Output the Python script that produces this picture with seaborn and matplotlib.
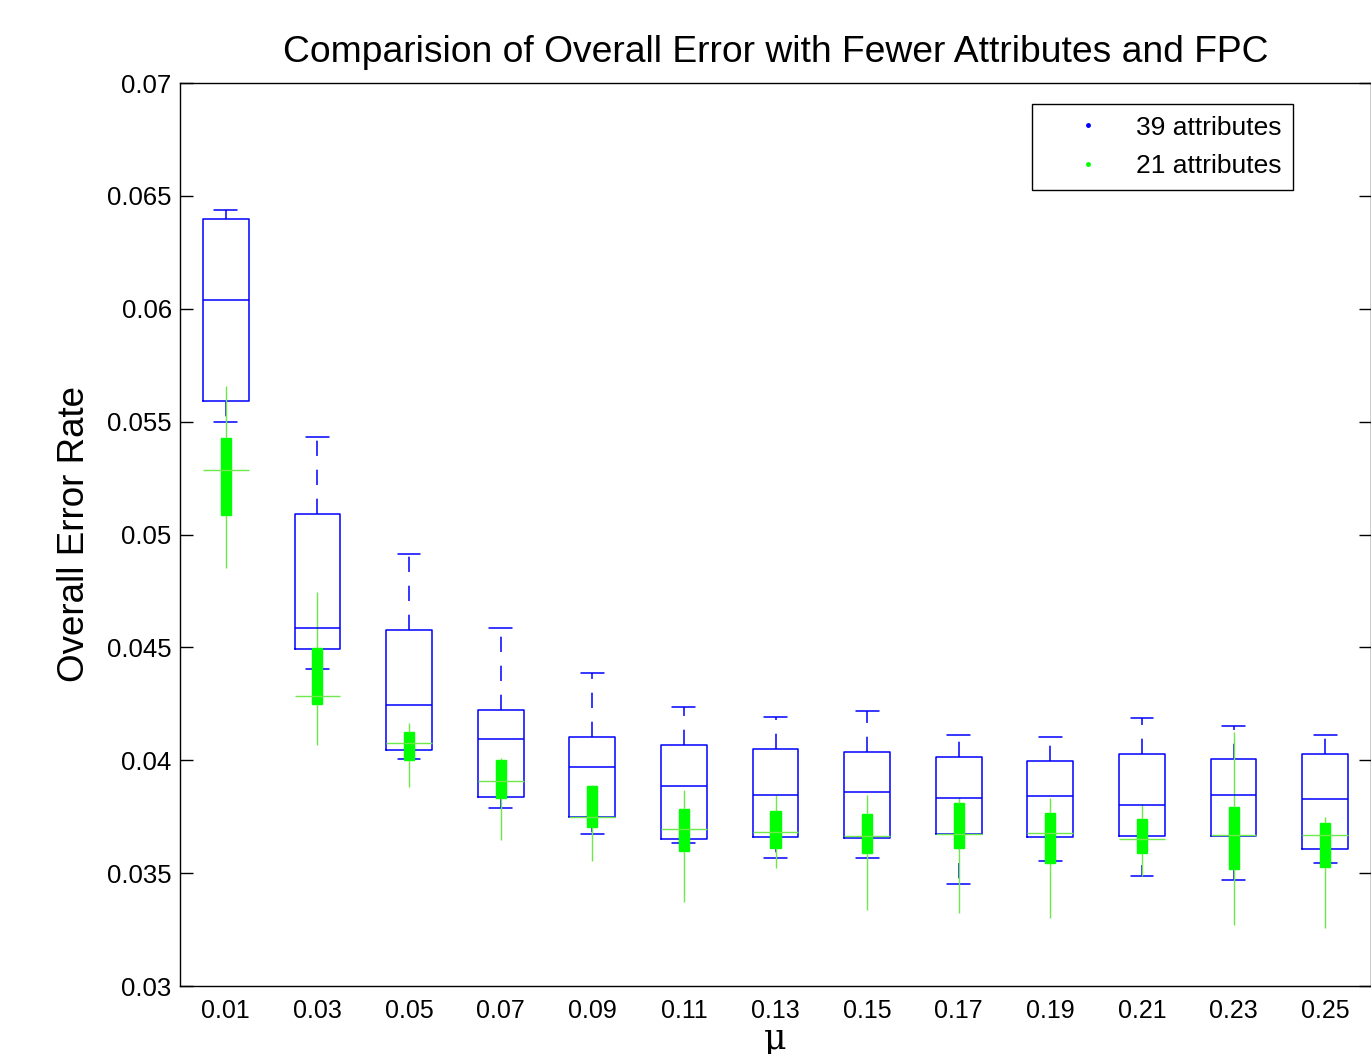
import numpy as np
import pandas as pd
import matplotlib
matplotlib.use("Agg")
import matplotlib.pyplot as plt
from matplotlib.lines import Line2D
import seaborn as sns

# ---- data ----
mu_labels = ['0.01', '0.03', '0.05', '0.07', '0.09', '0.11', '0.13',
             '0.15', '0.17', '0.19', '0.21', '0.23', '0.25']

# 39 attributes (blue): lower whisker, Q1, median, Q3, upper whisker
b_lo  = [0.05498, 0.04404, 0.04006, 0.03788, 0.03673, 0.03633, 0.03567,
         0.03567, 0.03452, 0.03554, 0.03487, 0.03470, 0.03545]
b_q1  = [0.05591, 0.04493, 0.04045, 0.03837, 0.03749, 0.03651, 0.03660,
         0.03656, 0.03673, 0.03660, 0.03664, 0.03664, 0.03607]
b_med = [0.06039, 0.04586, 0.04245, 0.04094, 0.03970, 0.03886, 0.03846,
         0.03859, 0.03833, 0.03842, 0.03802, 0.03846, 0.03828]
b_q3  = [0.06398, 0.05091, 0.04577, 0.04223, 0.04103, 0.04068, 0.04050,
         0.04037, 0.04014, 0.03997, 0.04028, 0.04006, 0.04028]
b_hi  = [0.06437, 0.05432, 0.04914, 0.04586, 0.04387, 0.04236, 0.04192,
         0.04218, 0.04112, 0.04103, 0.04187, 0.04152, 0.04112]

# 21 attributes (green)
g_lo  = [0.04852, 0.04068, 0.03881, 0.03647, 0.03554, 0.03372, 0.03523,
         0.03337, 0.03323, 0.03301, 0.03487, 0.03270, 0.03257]
g_q1  = [0.05086, 0.04249, 0.04001, 0.03833, 0.03704, 0.03598, 0.03611,
         0.03589, 0.03611, 0.03545, 0.03589, 0.03518, 0.03527]
g_med = [0.05286, 0.04285, 0.04076, 0.03908, 0.03749, 0.03695, 0.03682,
         0.03664, 0.03673, 0.03678, 0.03651, 0.03669, 0.03669]
g_q3  = [0.05427, 0.04497, 0.04125, 0.04001, 0.03886, 0.03784, 0.03775,
         0.03762, 0.03811, 0.03766, 0.03740, 0.03793, 0.03722]
g_hi  = [0.05658, 0.04745, 0.04165, 0.04010, 0.03890, 0.03868, 0.03846,
         0.03846, 0.03837, 0.03833, 0.03806, 0.04125, 0.03749]

y_ticks = [0.03, 0.035, 0.04, 0.045, 0.05, 0.055, 0.06, 0.065, 0.07]
y_tick_labels = ['0.03', '0.035', '0.04', '0.045', '0.05', '0.055',
                 '0.06', '0.065', '0.07']

title = 'Comparision of Overall Error with Fewer Attributes and FPC'
series_names = ['39 attributes', '21 attributes']

BLUE = '#0000ff'
GREEN = '#00ff00'
LIGHT_GREEN = '#6ee84a'


def long_frame(lo, q1, med, q3, hi):
    rows = []
    for i, lab in enumerate(mu_labels):
        for v in (lo[i], q1[i], med[i], q3[i], hi[i]):
            rows.append({'mu': lab, 'err': v})
    return pd.DataFrame(rows)


df_b = long_frame(b_lo, b_q1, b_med, b_q3, b_hi)
df_g = long_frame(g_lo, g_q1, g_med, g_q3, g_hi)

sns.set_style("white")
plt.rcParams['font.family'] = ['Liberation Sans', 'DejaVu Sans']
plt.rcParams['text.color'] = 'black'
plt.rcParams['axes.labelcolor'] = 'black'
plt.rcParams['xtick.color'] = 'black'
plt.rcParams['ytick.color'] = 'black'

fig = plt.figure(figsize=(13.71, 10.54), dpi=100)
ax = fig.add_axes([180 / 1371, 68 / 1054, 1191 / 1371, 903 / 1054])

# blue boxes (outline, dashed whiskers)
sns.boxplot(data=df_b, x='mu', y='err', order=mu_labels, ax=ax,
            whis=(0, 100), width=0.5, fill=False, color=BLUE,
            linecolor=BLUE, linewidth=1.1, saturation=1,
            whiskerprops=dict(linestyle=(0, (10, 9))))

# green compact boxes (thick filled box, thin whiskers, no caps)
sns.boxplot(data=df_g, x='mu', y='err', order=mu_labels, ax=ax,
            whis=(0, 100), width=0.11, fill=True, color=GREEN,
            linecolor=GREEN, linewidth=1.0, saturation=1,
            showcaps=False, medianprops=dict(alpha=0),
            whiskerprops=dict(color=LIGHT_GREEN))

# green medians as wide horizontal lines
sns.boxplot(data=df_g, x='mu', y='err', order=mu_labels, ax=ax,
            whis=(0, 100), width=0.5, fill=False, color=GREEN,
            linecolor=GREEN, linewidth=1.0, saturation=1,
            showcaps=False, boxprops=dict(alpha=0),
            whiskerprops=dict(alpha=0),
            medianprops=dict(color=LIGHT_GREEN, alpha=1))

ax.set_xlim(-0.5, len(mu_labels) - 0.5)
ax.set_ylim(0.03, 0.07)
ax.set_yticks(y_ticks)
ax.set_yticklabels(y_tick_labels)
ax.set_xticks(range(len(mu_labels)))
ax.set_xticklabels(mu_labels)

for s in ax.spines.values():
    s.set_visible(True)
    s.set_color('black')
    s.set_linewidth(1.0)

ax.tick_params(axis='y', direction='in', length=9, width=1, left=True,
               right=True, labelsize=18.5, pad=6, colors='black')
ax.tick_params(axis='x', length=0, labelsize=18, pad=9, colors='black')

ax.set_title(title, fontsize=26.8, pad=15, color='black')
ax.set_ylabel('Overall Error Rate', fontsize=26.5, color='black')
ax.yaxis.set_label_coords(-0.0735, 0.5)
ax.set_xlabel('μ', fontsize=25, family=['DejaVu Serif'], labelpad=0,
              color='black')

handles = [Line2D([], [], marker='.', linestyle='none', color=BLUE,
                  markersize=5),
           Line2D([], [], marker='.', linestyle='none', color=GREEN,
                  markersize=5)]
leg = ax.legend(handles, series_names, loc='upper left',
                bbox_to_anchor=((1032 - 180) / 1191, (986 - 104) / 903),
                borderaxespad=0, fontsize=19, frameon=True, fancybox=False,
                edgecolor='black', handlelength=3.36, handletextpad=0.14,
                borderpad=0.44, labelspacing=0.55)
leg.get_frame().set_linewidth(1.0)
leg.get_frame().set_alpha(1)

fig.savefig('out.png', dpi=100, facecolor='white')
